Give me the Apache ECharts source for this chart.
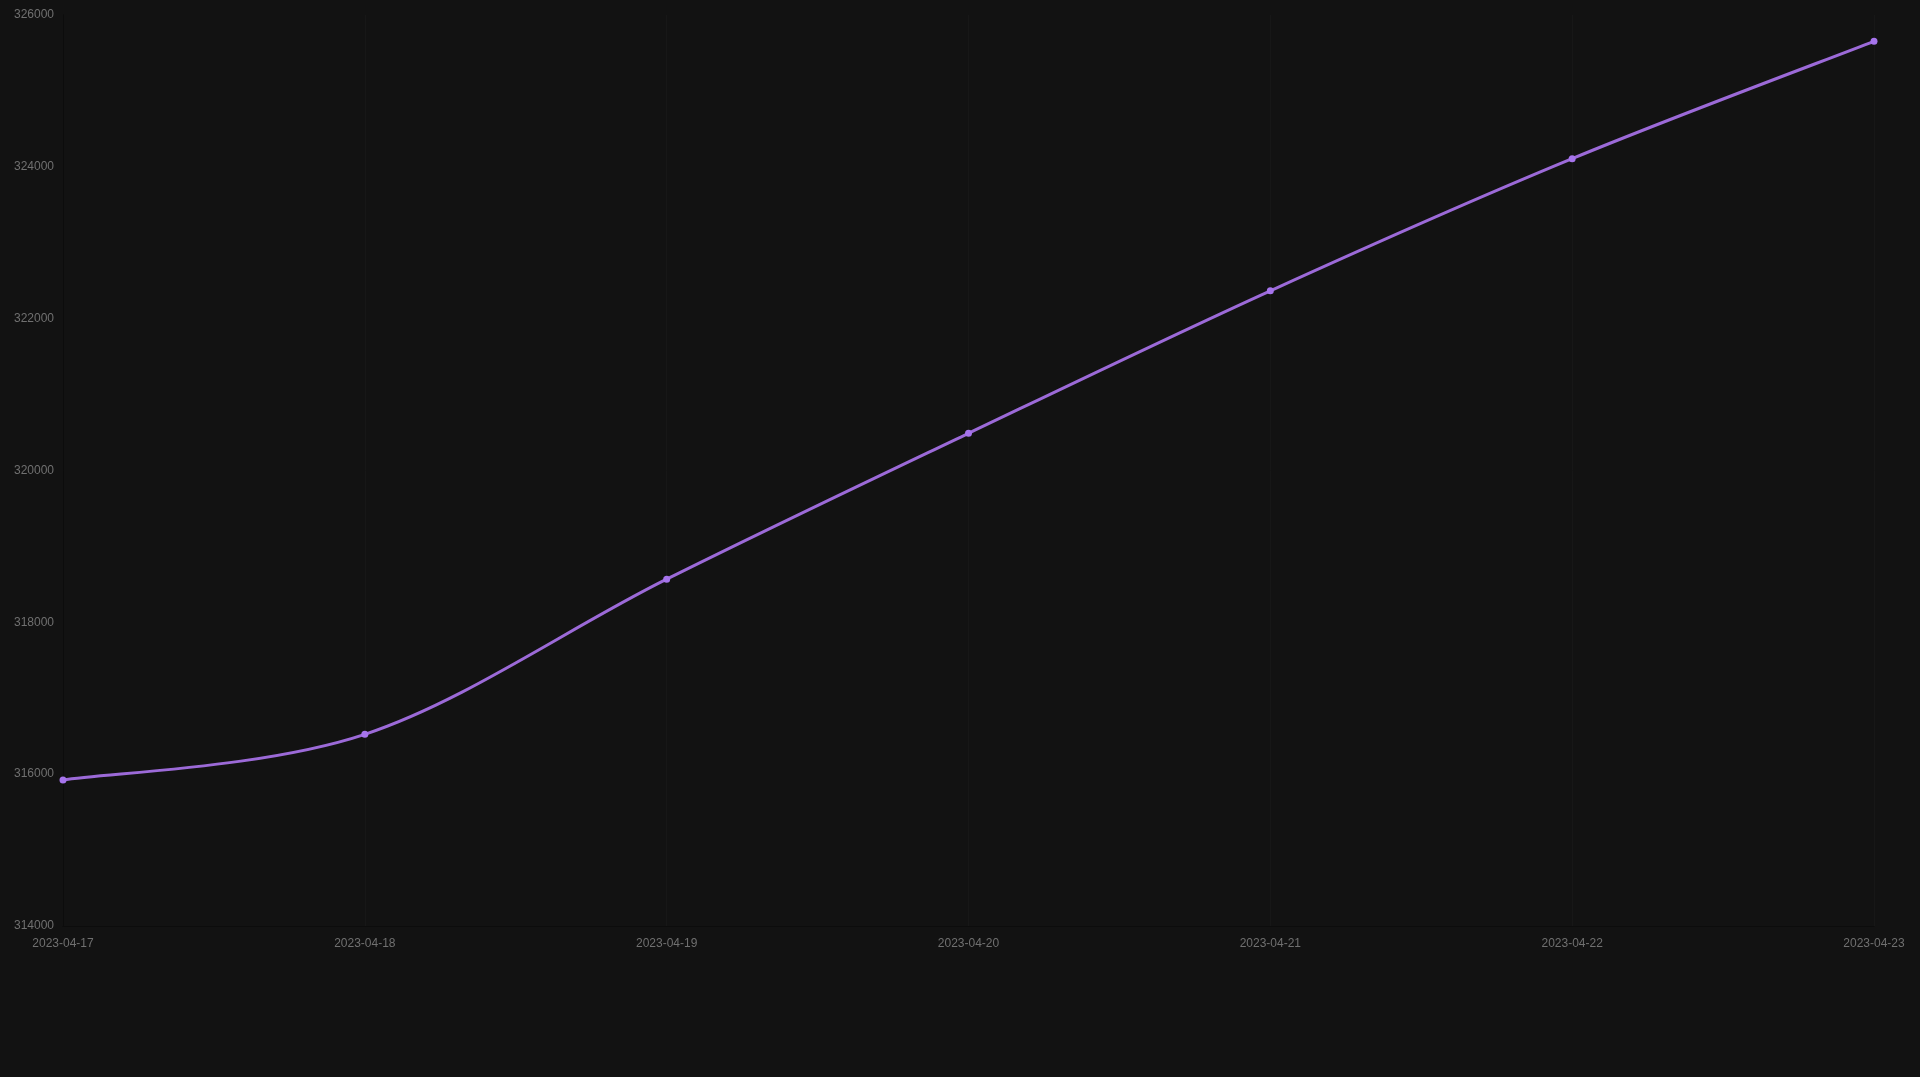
<!DOCTYPE html>
<html>
<head>
<meta charset="utf-8">
<script src="https://cdn.jsdelivr.net/npm/echarts@6/dist/echarts.min.js"></script>
<style>
html,body{margin:0;padding:0;background:#121212;}
#chart{width:1920px;height:1077px;}
</style>
</head>
<body>
<div id="chart"></div>
<script>
const categories = ['2023-04-17','2023-04-18','2023-04-19','2023-04-20','2023-04-21','2023-04-22','2023-04-23'];
const values = [315923, 316525, 318568, 320490, 322367, 324108, 325653];
const yMin = 314000, yMax = 326000, yInterval = 2000;

const lineColor = '#9c6ad8';
const n = values.length;
function clampIdx(i){ return Math.max(0, Math.min(n - 1, i)); }

const chart = echarts.init(document.getElementById('chart'), null, {renderer:'canvas'});
chart.setOption({
  backgroundColor: '#121212',
  animation: false,
  grid: {left: 63, right: 46, top: 15, bottom: 151, containLabel: false},
  xAxis: {
    type: 'category',
    data: categories,
    boundaryGap: false,
    axisLine: {show: true, lineStyle: {color: '#0c0c0c'}},
    axisTick: {show: false},
    axisLabel: {color: '#707070', fontSize: 12, fontFamily: 'Arial, Liberation Sans, sans-serif', margin: 12},
    splitLine: {show: true, lineStyle: {color: '#171717'}}
  },
  yAxis: {
    type: 'value',
    min: yMin, max: yMax, interval: yInterval,
    axisLine: {show: true, lineStyle: {color: '#0c0c0c'}},
    axisTick: {show: false},
    axisLabel: {color: '#707070', fontSize: 12, fontFamily: 'Arial, Liberation Sans, sans-serif', margin: 9,
      padding: [3, 0, 0, 0],
      formatter: v => String(v)},
    splitLine: {show: false}
  },
  series: [
    {
      type: 'custom',
      coordinateSystem: 'cartesian2d',
      data: values.map((v, i) => [i, v]),
      z: 2,
      renderItem: function (params, api) {
        const i = params.dataIndex;
        if (i >= n - 1) return null;
        const p = k => api.coord([clampIdx(k), values[clampIdx(k)]]);
        const p0 = p(i - 1), p1 = p(i), p2 = p(i + 1), p3 = p(i + 2);
        const k = 1 / 6;
        return {
          type: 'bezierCurve',
          shape: {
            x1: p1[0], y1: p1[1],
            cpx1: p1[0] + k * (p2[0] - p0[0]), cpy1: p1[1] + k * (p2[1] - p0[1]),
            cpx2: p2[0] - k * (p3[0] - p1[0]), cpy2: p2[1] - k * (p3[1] - p1[1]),
            x2: p2[0], y2: p2[1]
          },
          style: {stroke: lineColor, lineWidth: 3, fill: null}
        };
      }
    },
    {
      type: 'line',
      data: values,
      z: 3,
      symbol: 'circle',
      symbolSize: 7,
      lineStyle: {opacity: 0},
      itemStyle: {color: '#a674ec'}
    }
  ]
});
</script>
</body>
</html>
